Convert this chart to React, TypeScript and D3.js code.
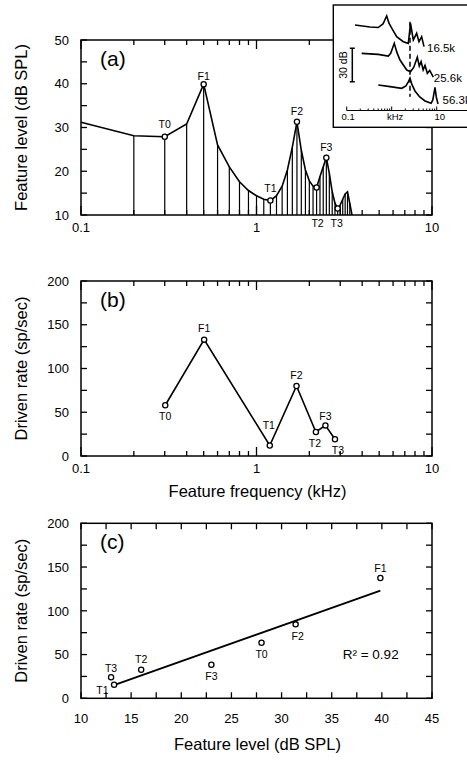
import React, { useEffect, useRef } from 'react';
import * as d3 from 'd3';

const FONT = '"Liberation Sans", Arial, Helvetica, sans-serif';

// (a) spectrum envelope sampled at the harmonics (kHz, dB SPL)
const envFreq = [0.1, 0.2, 0.3, 0.4, 0.5, 0.6, 0.7, 0.8, 0.9, 1.0, 1.1, 1.2, 1.3, 1.4, 1.5, 1.6, 1.7, 1.8,
  1.9, 2.0, 2.1, 2.2, 2.3, 2.4, 2.5, 2.6, 2.7, 2.8, 2.9, 3.0, 3.1, 3.2, 3.3, 3.4, 3.5];
const envLevel = [31.2, 28.1, 27.9, 30.8, 39.9, 26.0, 21.0, 17.6, 15.6, 14.4, 13.6, 13.3, 14.4, 16.6, 20.3, 25.5, 31.3, 24.8,
  20.3, 17.8, 16.6, 16.3, 18.8, 21.0, 23.1, 19.5, 15.3, 12.7, 11.5, 12.3, 13.6, 14.8, 15.3, 12.7, 10.0];

const featureNames = ['T0', 'F1', 'T1', 'F2', 'T2', 'F3', 'T3'];
const featureFreqA = [0.3, 0.5, 1.2, 1.7, 2.2, 2.5, 2.9];
const featureLevelA = [27.9, 39.9, 13.3, 31.3, 16.3, 23.1, 11.5];

// (b) driven rate vs feature frequency
const featureFreqB = [0.302, 0.503, 1.19, 1.69, 2.18, 2.47, 2.8];
const drivenRateB = [58, 133, 12, 80, 27.4, 35, 19.2];

// (c) driven rate vs feature level
const featureLevelC = [28.0, 39.85, 13.3, 31.4, 16.0, 23.0, 13.0];
const drivenRateC = [63.5, 137.5, 15.5, 84.5, 32.7, 38.4, 24];

const levelTickLabels = [10, 20, 30, 40, 50];
const rateTickLabels = [0, 50, 100, 150, 200];
const levelTickLabelsC = [10, 15, 20, 25, 30, 35, 40, 45];
const freqTickLabels = [0.1, 1, 10];

// inset: spectra of three stimuli [kHz, dB]
const insetNames = ['16.5k', '25.6k', '56.3k'];
const insetCurve1 = [[0.153, 76.4], [0.33, 74.6], [0.5, 74.1], [0.64, 77.3], [0.774, 84.5], [0.87, 78], [1.0, 73.6],
  [1.29, 65.9], [1.81, 61.4], [2.34, 59.9], [2.62, 77.9], [3.02, 62.9], [3.58, 68.9], [4.04, 61.4], [4.63, 65.9], [5.22, 56.9]];
const insetCurve2 = [[0.215, 50.9], [0.5, 50], [0.84, 48.5], [0.95, 51], [1.14, 59.9], [1.3, 52], [1.53, 44.9], [2.16, 35.9],
  [2.62, 34.4], [3.1, 38.5], [3.71, 47.4], [4.1, 39.5], [4.5, 43.5], [5.0, 36], [5.5, 40], [6.2, 33], [7.0, 35.5], [8.4, 29.5]];
const insetCurve3 = [[0.504, 22.5], [0.92, 21], [1.67, 19.5], [2.07, 21.6], [2.34, 25.2], [2.55, 28.5], [2.84, 22.5],
  [3.29, 17.1], [4.2, 11.7], [5.5, 8.1], [7.5, 6.0], [8.2, 9], [9.16, 20.4], [9.8, 11.7], [10.7, 5.4]];
const insetCurves = [insetCurve1, insetCurve2, insetCurve3];
const insetMarkerFreq = 2.55;

// label placement (px offsets from the point)
const offA = { T0: [0, -8.5], F1: [0, -4.5], T1: [0, -8.5], F2: [0, -6.5], T2: [1, null], F3: [0, -6.5], T3: [-1, null] };
const offB = { T0: [0, 15], F1: [0, -7.5], T1: [-1, -17], F2: [0, -6.7], T2: [-1, 14.7], F3: [0, -5.3], T3: [3, 15] };
const offC = { T0: [0, 15.6], F1: [0, -6.3], T1: [-11.6, 9.3], F2: [2, 15.7], T2: [0, -6.4], F3: [0, 15.3], T3: [0, -5.6] };

const L = 81;
const R = 432;

export default function App() {
  const svgRef = useRef(null);

  useEffect(() => {
    const svg = d3.select(svgRef.current);
    svg.selectAll('*').remove();
    svg.attr('font-family', FONT);

    const xf = d3.scaleLog().domain([0.1, 10]).range([L, R]);
    const yA = d3.scaleLinear().domain([10, 50]).range([215, 40]);
    const yB = d3.scaleLinear().domain([0, 200]).range([456, 281]);
    const xC = d3.scaleLinear().domain([10, 45]).range([L, R]);
    const yC = d3.scaleLinear().domain([0, 200]).range([698.3, 523.3]);

    const frame = (x, y, xTicks, yTicks, majorX, majLen, minLen) => {
      const g = svg.append('g').attr('stroke', '#000').attr('stroke-width', 1.3);
      const [y0, y1] = y.range();
      xTicks.forEach(t => {
        const px = x(t);
        const len = majorX(t) ? majLen : minLen;
        g.append('line').attr('x1', px).attr('x2', px).attr('y1', y0).attr('y2', y0 - len);
        g.append('line').attr('x1', px).attr('x2', px).attr('y1', y1).attr('y2', y1 + len);
      });
      yTicks.forEach(t => {
        const py = y(t);
        g.append('line').attr('x1', L).attr('x2', L + 6).attr('y1', py).attr('y2', py);
        g.append('line').attr('x1', R).attr('x2', R - 6).attr('y1', py).attr('y2', py);
      });
      g.append('rect').attr('x', L).attr('y', y1).attr('width', R - L).attr('height', y0 - y1)
        .attr('fill', 'none').attr('stroke-width', 1.5);
    };

    const yLabels = (y, vals) => {
      vals.forEach(v => {
        svg.append('text').attr('x', 69).attr('y', y(v) + 4.7).attr('text-anchor', 'end')
          .attr('font-size', 13).text(v);
      });
    };

    const xLabels = (x, vals, base) => {
      vals.forEach(v => {
        svg.append('text').attr('x', x(v)).attr('y', base).attr('text-anchor', 'middle')
          .attr('font-size', 13).text(v);
      });
    };

    const yTitle = (text, cy) => {
      svg.append('text').attr('transform', `translate(27,${cy}) rotate(-90)`)
        .attr('text-anchor', 'middle').attr('font-size', 16.5).text(text);
    };

    const marker = (cx, cy) => {
      svg.append('circle').attr('cx', cx).attr('cy', cy).attr('r', 2.6)
        .attr('fill', '#fff').attr('stroke', '#000').attr('stroke-width', 1.3);
    };

    const ptLabel = (text, x, y) => {
      svg.append('text').attr('x', x).attr('y', y).attr('text-anchor', 'middle')
        .attr('font-size', 10.5).text(text);
    };

    const isDecade = t => Math.abs(Math.log10(t) - Math.round(Math.log10(t))) < 1e-6;

    // ---------- (a)
    const envPts = envFreq.map((f, i) => [f, envLevel[i]]);
    envPts.filter(d => d[0] > 0.1).forEach(d => {
      svg.append('line').attr('x1', xf(d[0])).attr('x2', xf(d[0]))
        .attr('y1', yA(10)).attr('y2', yA(d[1])).attr('stroke', '#000').attr('stroke-width', 1.2);
    });
    svg.append('path').datum(envPts)
      .attr('d', d3.line().x(d => xf(d[0])).y(d => yA(d[1])))
      .attr('fill', 'none').attr('stroke', '#000').attr('stroke-width', 1.6);
    frame(xf, yA, xf.ticks(), d3.range(10, 50.1, 5), isDecade, 9, 5);
    featureNames.forEach((n, i) => {
      const cx = xf(featureFreqA[i]);
      const cy = yA(featureLevelA[i]);
      marker(cx, cy);
      const o = offA[n];
      ptLabel(n, cx + o[0], o[1] === null ? 227 : cy + o[1]);
    });
    yLabels(yA, levelTickLabels);
    xLabels(xf, freqTickLabels, 232);
    yTitle('Feature level (dB SPL)', 127.5);
    svg.append('text').attr('x', 100).attr('y', 66.3).attr('font-size', 21).text('(a)');

    // ---------- inset
    const xi = d3.scaleLog().domain([0.1, 10]).range([346.7, 436.7]);
    const yi = d3.scaleLinear().domain([0, 100]).range([110, -1.3]);
    const ins = svg.append('g');
    ins.append('rect').attr('x', 333.3).attr('y', 5).attr('width', 160).attr('height', 122.3)
      .attr('fill', '#fff').attr('stroke', '#000').attr('stroke-width', 1.4);
    ins.append('line').attr('x1', xi(0.1)).attr('x2', 470).attr('y1', 110.5).attr('y2', 110.5)
      .attr('stroke', '#000').attr('stroke-width', 1);
    xi.ticks().forEach(t => {
      const len = isDecade(t) ? 4 : 2;
      ins.append('line').attr('x1', xi(t)).attr('x2', xi(t)).attr('y1', 110.5).attr('y2', 110.5 - len)
        .attr('stroke', '#000').attr('stroke-width', 1);
    });
    [['0.1', 0.1, 1.5], ['kHz', 1, 3.5], ['10', 10, 3]].forEach(([t, v, dx]) => {
      ins.append('text').attr('x', xi(v) + dx).attr('y', 120).attr('text-anchor', 'middle')
        .attr('font-size', 9.5).text(t);
    });
    ins.append('line').attr('x1', xi(insetMarkerFreq)).attr('x2', xi(insetMarkerFreq))
      .attr('y1', yi(79.3)).attr('y2', yi(12)).attr('stroke', '#000').attr('stroke-width', 1.5)
      .attr('stroke-dasharray', '5,3');
    const iline = d3.line().x(d => xi(d[0])).y(d => yi(d[1]));
    insetCurves.forEach(c => {
      ins.append('path').datum(c).attr('d', iline).attr('fill', 'none')
        .attr('stroke', '#000').attr('stroke-width', 1.6);
    });
    const insetLabelOff = [[3, 5], [0.5, 5], [4.5, 0]];
    insetCurves.forEach((c, i) => {
      const last = c[c.length - 1];
      ins.append('text').attr('x', xi(last[0]) + insetLabelOff[i][0]).attr('y', yi(last[1]) + insetLabelOff[i][1])
        .attr('font-size', 11.5).text(insetNames[i]);
    });
    // 30 dB scale bar
    const sbx = 352.3;
    ins.append('path')
      .attr('d', `M${sbx - 2.5},${yi(55.4)}H${sbx + 2.5}M${sbx},${yi(55.4)}V${yi(25.4)}M${sbx - 2.5},${yi(25.4)}H${sbx + 2.5}`)
      .attr('stroke', '#000').attr('stroke-width', 1.5).attr('fill', 'none');
    ins.append('text').attr('transform', `translate(346.8,${yi(40.4)}) rotate(-90)`)
      .attr('text-anchor', 'middle').attr('font-size', 10.5).text('30 dB');

    // ---------- (b)
    frame(xf, yB, xf.ticks(), d3.range(0, 200.1, 25), isDecade, 9, 5);
    const bPts = featureFreqB.map((f, i) => [f, drivenRateB[i]]);
    svg.append('path').datum(bPts)
      .attr('d', d3.line().x(d => xf(d[0])).y(d => yB(d[1])))
      .attr('fill', 'none').attr('stroke', '#000').attr('stroke-width', 1.6);
    featureNames.forEach((n, i) => {
      const cx = xf(featureFreqB[i]);
      const cy = yB(drivenRateB[i]);
      marker(cx, cy);
      ptLabel(n, cx + offB[n][0], cy + offB[n][1]);
    });
    yLabels(yB, rateTickLabels);
    xLabels(xf, freqTickLabels, 473);
    yTitle('Driven rate (sp/sec)', 368.5);
    svg.append('text').attr('x', 100).attr('y', 307.3).attr('font-size', 21).text('(b)');
    svg.append('text').attr('x', 257.5).attr('y', 497).attr('text-anchor', 'middle')
      .attr('font-size', 16.5).text('Feature frequency (kHz)');

    // ---------- (c)
    frame(xC, yC, d3.range(10, 45.1, 2.5), d3.range(0, 200.1, 25), () => false, 6, 6);
    const n = featureLevelC.length;
    const mx = d3.mean(featureLevelC);
    const my = d3.mean(drivenRateC);
    let sxy = 0;
    let sxx = 0;
    for (let i = 0; i < n; i++) {
      sxy += (featureLevelC[i] - mx) * (drivenRateC[i] - my);
      sxx += (featureLevelC[i] - mx) ** 2;
    }
    const slope = sxy / sxx;
    const fit = v => my + slope * (v - mx);
    const [lx0, lx1] = d3.extent(featureLevelC);
    const fx0 = lx0 + 0.5;
    svg.append('line').attr('x1', xC(fx0)).attr('y1', yC(fit(fx0)))
      .attr('x2', xC(lx1)).attr('y2', yC(fit(lx1)))
      .attr('stroke', '#000').attr('stroke-width', 1.8);
    featureNames.forEach((nm, i) => {
      const cx = xC(featureLevelC[i]);
      const cy = yC(drivenRateC[i]);
      marker(cx, cy);
      ptLabel(nm, cx + offC[nm][0], cy + offC[nm][1]);
    });
    yLabels(yC, rateTickLabels);
    xLabels(xC, levelTickLabelsC, 722.5);
    yTitle('Driven rate (sp/sec)', 610.8);
    svg.append('text').attr('x', 100).attr('y', 548.9).attr('font-size', 21).text('(c)');
    svg.append('text').attr('x', xC(36.1)).attr('y', yC(44.6)).attr('font-size', 13.5).text('R² = 0.92');
    svg.append('text').attr('x', 257.5).attr('y', 750).attr('text-anchor', 'middle')
      .attr('font-size', 16.5).text('Feature level (dB SPL)');
  }, []);

  return (
    <div style={{ position: 'absolute', left: 0, top: 0 }}>
      <svg ref={svgRef} width={467} height={760} style={{ display: 'block', background: '#fff' }}></svg>
    </div>
  );
}
